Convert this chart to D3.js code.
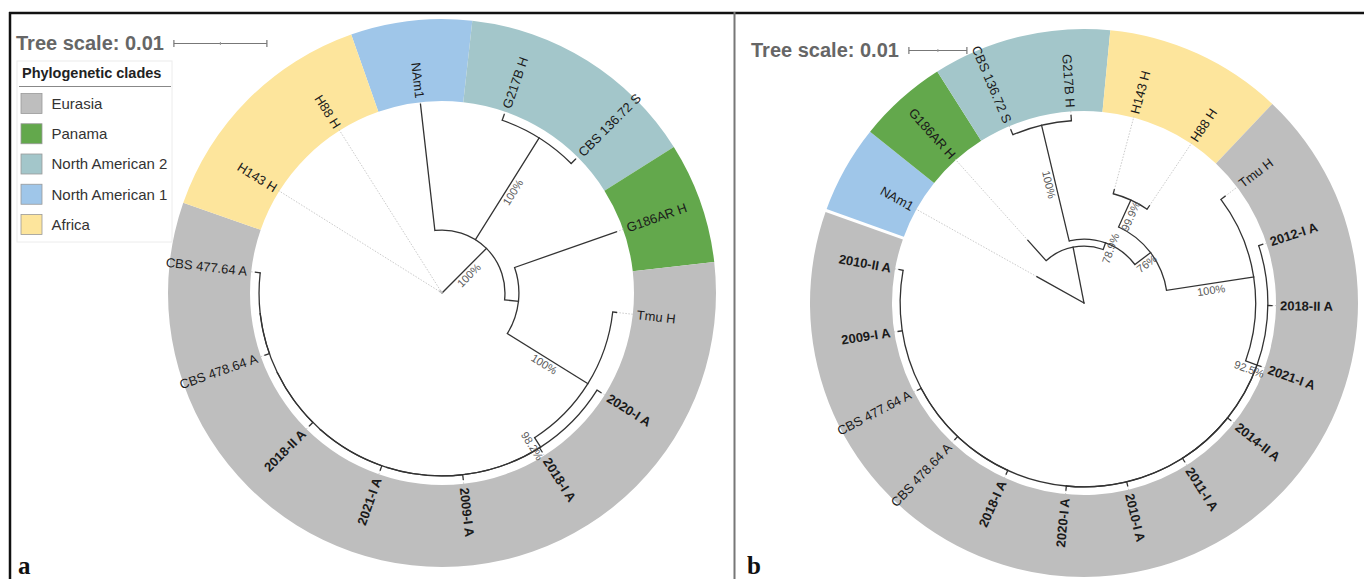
<!DOCTYPE html>
<html><head><meta charset="utf-8">
<script src="https://cdn.jsdelivr.net/npm/d3@7"></script>
<style>body{margin:0;background:#fff} svg{display:block}</style>
</head><body>
<svg id="chart" width="1364" height="579"></svg>
<script>
// ================= DATA =================
const cladeNames  = ["Eurasia", "Panama", "North American 2", "North American 1", "Africa"];
const cladeColors = ["#bebebe", "#63a84c", "#a3c6ca", "#9fc6e9", "#fde59c"];
const eurasiaMembers = ["Tmu H","2020-I A","2018-I A","2009-I A","2021-I A","2018-II A","CBS 478.64 A","CBS 477.64 A","2012-I A","2014-II A","2011-I A","2010-I A","2010-II A"];
const panamaMembers  = ["G186AR H"];
const nAm2Members    = ["G217B H","CBS 136.72 S"];
const nAm1Members    = ["NAm1"];
const africaMembers  = ["H143 H","H88 H"];
const cladeMembers = [eurasiaMembers, panamaMembers, nAm2Members, nAm1Members, africaMembers];

const treeScaleValue = 0.01;
const treeScaleLabel = "Tree scale: 0.01";

// Panel a tree (node table: id, parent, branch length, bootstrap)
const nodeA   = ["rootA","A1","NAm1","B1","G217B H","CBS 136.72 S","C1","G186AR H","D1","Tmu H","E1","2020-I A","E2","2018-I A","E3","2009-I A","E4","2021-I A","E5","2018-II A","E6","CBS 478.64 A","CBS 477.64 A","H143 H","H88 H"];
const parentA = ["","rootA","A1","A1","B1","B1","A1","C1","C1","D1","D1","E1","E1","E2","E2","E3","E3","E4","E4","E5","E5","E6","E6","rootA","rootA"];
const lengthA = [0,0.00677,0.01366,0.0129,0.00065,0.00065,0.0015,0.0116,0.0102,0.0004,0.0012,0.0005,0,0.0005,0,0.0005,0,0.0005,0,0.0005,0,0.0005,0.0005,0.0003,0.0003];
const supportA = ["","100%","","100%","","","","","100%","","98.2%","","","","","","","","","","","","","",""];

// Panel b tree
const nodeB   = ["rootB","NAm1","N1","G186AR H","N2","B1","CBS 136.72 S","G217B H","Q1","R1","H143 H","H88 H","S1","Tmu H","T1","2012-I A","2018-II A","X1","2021-I A","Y1","2014-II A","2011-I A","2010-I A","2020-I A","Z1","2018-I A","CBS 478.64 A","CBS 477.64 A","2009-I A","2010-II A"];
const parentB = ["","rootB","rootB","N1","N1","N2","B1","B1","N2","Q1","R1","R1","Q1","S1","S1","T1","T1","T1","X1","X1","Y1","Y1","Y1","Y1","Y1","Z1","Z1","Z1","Z1","Z1"];
const lengthB = [0,0.0093,0.0098,0.0047,0.0012,0.0205,0.0009,0.0009,0.0034,0.0051,0.0007,0.0007,0.0152,0.0009,0.0021,0.0007,0.0007,0,0.0007,0,0.0007,0.0007,0.0007,0.0007,0,0.0007,0.0007,0.0007,0.0007,0.0007];
const supportB = ["","","","","78.9%","100%","","","76%","99.9%","","","100%","","92.5%","","","","","","","","","","","","","","",""];

// ================= DRAWING =================
const svg = d3.select("#chart");
const FONT = "'Liberation Sans', Arial, Helvetica, sans-serif";
const rad = a => a * Math.PI / 180;
const pt = (r, a) => [r * Math.sin(rad(a)), -r * Math.cos(rad(a))];
const norm = a => ((a % 360) + 360) % 360;
const cladeIndexOf = name => cladeMembers.findIndex(m => m.includes(name));

function drawPanel(cfg) {
  const {ids, parents, lens, sups, cx, cy, pxPerScale, theta0, gap, scaleX, scaleY, letter, letterX} = cfg;
  const ringInner = 192, ringOuter = 274, labelR = 196, leaderEnd = 193;
  const rows = ids.map((id, i) => ({id, parent: parents[i] === "" ? null : parents[i], len: lens[i], sup: sups[i]}));
  const root = d3.stratify().id(d => d.id).parentId(d => d.parent)(rows);
  const leaves = root.leaves();
  const n = leaves.length;
  const step = 360 / n;
  const angle = d3.scaleLinear().domain([0, n]).range([theta0, theta0 + 360]);
  const radius = d3.scaleLinear().domain([0, treeScaleValue]).range([0, pxPerScale]);
  root.eachBefore(d => { d.dist = d.parent ? d.parent.dist + d.data.len : 0; d.r = radius(d.dist); });
  leaves.forEach((d, i) => d.a = angle(i));
  root.eachAfter(d => { if (d.children) d.a = (d.children[0].a + d.children[d.children.length - 1].a) / 2; });

  const g = svg.append("g").attr("transform", `translate(${cx},${cy})`);

  // colored ring (runs of consecutive leaves in same clade)
  const runs = [];
  leaves.forEach((d, i) => {
    const c = cladeIndexOf(d.id);
    if (runs.length && runs[runs.length - 1].c === c) runs[runs.length - 1].end = i;
    else runs.push({c, start: i, end: i});
  });
  const arcGen = d3.arc().innerRadius(ringInner).outerRadius(ringOuter);
  g.selectAll("path.ring").data(runs).join("path").attr("class", "ring")
    .attr("d", d => arcGen({startAngle: rad(angle(d.start) - step / 2), endAngle: rad(angle(d.end) + step / 2)}))
    .attr("fill", d => cladeColors[d.c]);
  if (gap) {
    const a = angle(0) - step / 2;
    const p1 = pt(ringInner - 3, a), p2 = pt(ringOuter + 3, a);
    g.append("line").attr("x1", p1[0]).attr("y1", p1[1]).attr("x2", p2[0]).attr("y2", p2[1])
      .attr("stroke", "#fff").attr("stroke-width", 3);
  }

  // leader (dotted) lines
  g.selectAll("line.leader").data(leaves).join("line").attr("class", "leader")
    .attr("x1", d => pt(d.r, d.a)[0]).attr("y1", d => pt(d.r, d.a)[1])
    .attr("x2", d => pt(leaderEnd, d.a)[0]).attr("y2", d => pt(leaderEnd, d.a)[1])
    .attr("stroke", "#c4c4c4").attr("stroke-width", 0.9).attr("stroke-dasharray", "1.5,1.5");

  // branches: radial stems
  const nonRoot = root.descendants().filter(d => d.parent);
  g.selectAll("line.stem").data(nonRoot).join("line").attr("class", "stem")
    .attr("x1", d => pt(d.parent.r, d.a)[0]).attr("y1", d => pt(d.parent.r, d.a)[1])
    .attr("x2", d => pt(d.r, d.a)[0]).attr("y2", d => pt(d.r, d.a)[1])
    .attr("stroke", d => d.parent === root && !d.children && d.r < 10 ? "#c4c4c4" : "#333")
    .attr("stroke-width", 1.3).attr("stroke-linecap", "square");
  // arcs of internal nodes
  const internals = root.descendants().filter(d => d.children && d.r > 0);
  g.selectAll("path.narc").data(internals).join("path").attr("class", "narc")
    .attr("d", d => {
      const a1 = d3.min(d.children, c => c.a), a2 = d3.max(d.children, c => c.a);
      const p = d3.path();
      const s = pt(d.r, a1);
      p.moveTo(s[0], s[1]);
      p.arc(0, 0, d.r, rad(a1 - 90), rad(a2 - 90), false);
      return p.toString();
    })
    .attr("fill", "none").attr("stroke", "#333").attr("stroke-width", 1.3);

  // bootstrap labels
  const supNodes = nonRoot.filter(d => d.data.sup);
  g.selectAll("text.sup").data(supNodes).join("text").attr("class", "sup")
    .attr("transform", d => {
      const m = (d.parent.r + d.r) / 2, p = pt(m, d.a), a = norm(d.a);
      const rot = (a > 0 && a < 180) ? a - 90 : a + 90;
      return `translate(${p[0]},${p[1]}) rotate(${rot})`;
    })
    .attr("text-anchor", "middle").attr("dy", "0.95em")
    .attr("font-family", FONT).attr("font-size", 11).attr("fill", "#5a5a5a")
    .text(d => d.data.sup);

  // leaf labels
  g.selectAll("text.leaf").data(leaves).join("text").attr("class", "leaf")
    .attr("transform", d => {
      const p = pt(labelR, d.a), a = norm(d.a);
      const rot = (a > 0 && a < 180) ? a - 90 : a + 90;
      return `translate(${p[0]},${p[1]}) rotate(${rot})`;
    })
    .attr("text-anchor", d => { const a = norm(d.a); return (a > 0 && a < 180) ? "start" : "end"; })
    .attr("dy", "0.35em")
    .attr("font-family", FONT).attr("font-size", 13)
    .attr("font-weight", d => /^\d{4}/.test(d.id) ? "bold" : "normal")
    .attr("fill", "#1a1a1a")
    .text(d => d.id);

  // tree scale
  const sg = svg.append("g");
  const textEl = sg.append("text").attr("x", scaleX).attr("y", scaleY)
    .attr("font-family", FONT).attr("font-size", 20).attr("font-weight", "bold").attr("fill", "#666")
    .text(treeScaleLabel);
  const barX = scaleX + textEl.node().getComputedTextLength() + 10;
  const barY = scaleY - 6.5;
  const L = radius(treeScaleValue);
  sg.append("line").attr("x1", barX).attr("x2", barX + L).attr("y1", barY).attr("y2", barY).attr("stroke", "#777").attr("stroke-width", 1.2);
  [barX, barX + L].forEach(x => sg.append("line").attr("x1", x).attr("x2", x).attr("y1", barY - 3.5).attr("y2", barY + 3.5).attr("stroke", "#777").attr("stroke-width", 1.2));
  sg.append("line").attr("x1", barX + L / 2).attr("x2", barX + L / 2).attr("y1", barY - 1.5).attr("y2", barY + 1.5).attr("stroke", "#999").attr("stroke-width", 1);

  // panel letter
  svg.append("text").attr("x", letterX).attr("y", 574).attr("font-family", "'Liberation Serif', 'DejaVu Serif', serif")
    .attr("font-weight", "bold").attr("font-size", 25).attr("fill", "#111").text(letter);
}

drawPanel({ids: nodeA, parents: parentA, lens: lengthA, sups: supportA, cx: 442, cy: 293, pxPerScale: 93,
  theta0: -6.5, gap: false, scaleX: 16, scaleY: 50, letter: "a", letterX: 18});
drawPanel({ids: nodeB, parents: parentB, lens: lengthB, sups: supportB, cx: 1084, cy: 303, pxPerScale: 58,
  theta0: -60.8, gap: true, scaleX: 751, scaleY: 57, letter: "b", letterX: 747});

// legend
const lg = svg.append("g");
lg.append("rect").attr("x", 17).attr("y", 61).attr("width", 155).attr("height", 181)
  .attr("fill", "#fff").attr("stroke", "#ececec").attr("stroke-width", 1);
lg.append("text").attr("x", 22).attr("y", 78).attr("font-family", FONT).attr("font-weight", "bold")
  .attr("font-size", 14.5).attr("fill", "#222").text("Phylogenetic clades");
lg.append("line").attr("x1", 19).attr("x2", 171).attr("y1", 86.5).attr("y2", 86.5).attr("stroke", "#888").attr("stroke-width", 1);
const legendY = d3.scalePoint().domain(cladeNames).range([103.5, 224.5]);
lg.selectAll("rect.sw").data(cladeNames).join("rect").attr("class", "sw")
  .attr("x", 21).attr("y", d => legendY(d) - 10).attr("width", 21).attr("height", 20)
  .attr("fill", (d, i) => cladeColors[i]).attr("stroke", "#999").attr("stroke-width", 0.8);
lg.selectAll("text.lt").data(cladeNames).join("text").attr("class", "lt")
  .attr("x", 51.5).attr("y", d => legendY(d)).attr("dy", "0.36em")
  .attr("font-family", FONT).attr("font-size", 15).attr("fill", "#333").text(d => d);

// frame
svg.append("line").attr("x1", 9).attr("x2", 1364).attr("y1", 13).attr("y2", 13).attr("stroke", "#111").attr("stroke-width", 2.5);
svg.append("line").attr("x1", 10).attr("x2", 10).attr("y1", 12).attr("y2", 579).attr("stroke", "#111").attr("stroke-width", 2.5);
svg.append("line").attr("x1", 734.5).attr("x2", 734.5).attr("y1", 12).attr("y2", 579).attr("stroke", "#777").attr("stroke-width", 2);
</script>
</body></html>
